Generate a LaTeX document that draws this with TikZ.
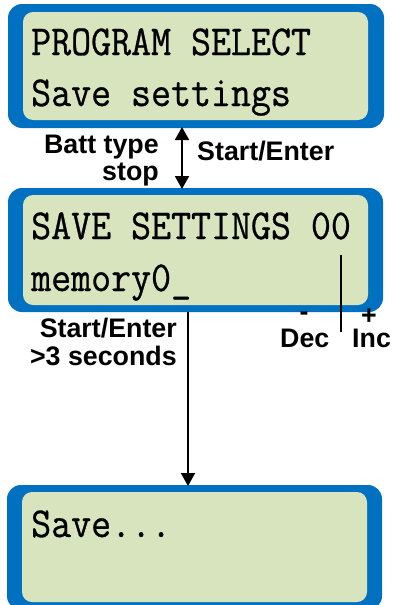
\documentclass[tikz,border=0pt]{standalone}
\usepackage{fontspec}
\setsansfont{Liberation Sans}
\newfontfamily\lcdfont[FakeBold=0.7]{Latin Modern Mono}
\usetikzlibrary{arrows.meta}
\definecolor{lcdblue}{RGB}{0,112,192}
\definecolor{lcdgreen}{RGB}{215,228,189}
\newcommand{\lcdtxt}[1]{\scalebox{1}[1.1]{\fontsize{38.8}{40}\selectfont\lcdfont #1}}
\tikzset{
  outerbox/.style={fill=lcdblue, draw=none, rounded corners=14pt, inner sep=0pt},
  innerbox/.style={fill=lcdgreen, draw=none, rounded corners=10pt, inner sep=0pt},
  lcdline/.style={anchor=base west, inner sep=0pt},
  lbl/.style={inner sep=0pt, font=\sffamily\bfseries\fontsize{26.8}{28}\selectfont},
  conn/.style={line width=2pt, -{Triangle[length=13pt,width=14pt]}},
  dconn/.style={line width=2pt, {Triangle[length=13pt,width=14pt]}-{Triangle[length=13pt,width=14pt]}}
}
\begin{document}
\begin{tikzpicture}[x=1pt,y=-1pt]
\useasboundingbox (0,0) rectangle (392,605);
\begin{scope}
\clip (0,0) rectangle (392,605);
% box 1
\node[outerbox, minimum width=376pt, minimum height=124pt] (b1) at (196,66) {};
\node[innerbox, minimum width=345pt, minimum height=108pt] (i1) at (195.5,66) {};
% box 2
\node[outerbox, minimum width=375pt, minimum height=124pt] (b2) at (195.5,250) {};
\node[innerbox, minimum width=345pt, minimum height=110pt] (i2) at (195.5,250) {};
% box 3
\node[outerbox, minimum width=375pt, minimum height=125pt] (b3) at (194.5,547.5) {};
\node[innerbox, minimum width=345pt, minimum height=110pt] (i3) at (194.5,547) {};
\end{scope}
% LCD texts
\node[lcdline] (t1) at (31,55) {\lcdtxt{PROGRAM SELECT}};
\node[lcdline] (t2) at (31,106) {\lcdtxt{Save settings}};
\node[lcdline] (t3) at (31,239) {\lcdtxt{SAVE SETTINGS 00}};
\node[lcdline] (t4) at (31,291) {\lcdtxt{memory0\_}};
\node[lcdline] (t5) at (31,537) {\lcdtxt{Save...}};
% connectors
\coordinate (a1s) at (182,127);
\coordinate (a1e) at (182,189);
\draw[dconn] (a1s) -- (a1e);
\coordinate (a2s) at (188,312);
\coordinate (a2e) at (188,486);
\draw[conn] (a2s) -- (a2e);
% labels
\node[lbl, anchor=base east] (l1a) at (159,153) {Batt type};
\node[lbl, anchor=base east] (l1b) at (159,180) {stop};
\node[lbl, anchor=base west] (l2) at (197,160) {Start/Enter};
\node[lbl, anchor=base east] (l3a) at (177,337) {Start/Enter};
\node[lbl, anchor=base east] (l3b) at (177,365) {>3 seconds};
% dec/inc
\coordinate (vt) at (341,255);
\coordinate (vb) at (341,332);
\draw[line width=1.3pt] (vt) -- (vb);
\node[lbl] (mn) at (304,316) {-};
\node[lbl] (pl) at (369,317) {+};
\node[lbl, anchor=base west] (dec) at (280,347) {Dec};
\node[lbl, anchor=base west] (inc) at (352,347) {Inc};
\end{tikzpicture}
\end{document}
